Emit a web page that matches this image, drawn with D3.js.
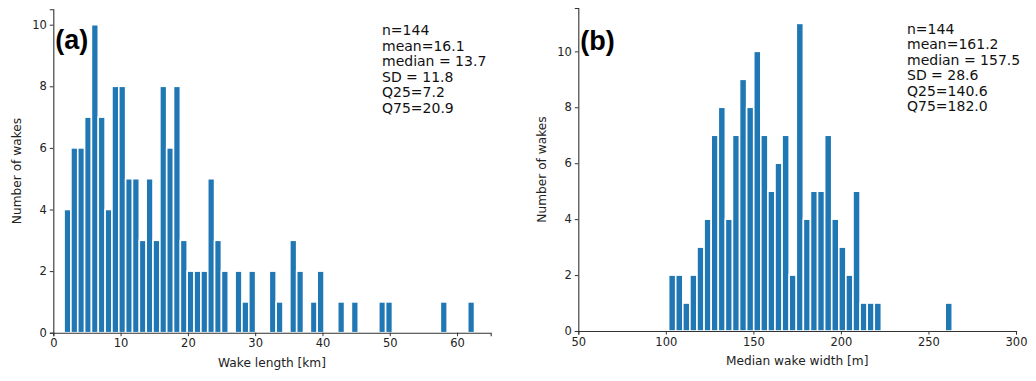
<!DOCTYPE html>
<html>
<head>
<meta charset="utf-8">
<script src="https://cdn.jsdelivr.net/npm/d3@7"></script>
<style>
  body { margin: 0; background: #fff; }
  text { font-family: "DejaVu Sans", sans-serif; }
</style>
</head>
<body>
<div id="canvas"></div>
<script>
"use strict"

/* Data: histogram counts */
// (a) wake length, 60 bins between lengthRange
const lengthCounts = [4, 6, 6, 7, 10, 7, 4, 8, 8, 5, 5, 3, 5, 3, 8, 6, 8, 3, 2, 2,
    2, 5, 3, 2, 0, 2, 1, 2, 0, 0, 2, 1, 0, 3, 2, 0, 1, 2, 0, 0,
    1, 0, 1, 0, 0, 0, 1, 1, 0, 0, 0, 0, 0, 0, 0, 1, 0, 0, 0, 1];
const lengthRange = [1.6, 62.6];
const lengthTicks = [0, 10, 20, 30, 40, 50, 60];
const lengthStats = ["n=144", "mean=16.1", "median = 13.7", "SD = 11.8", "Q25=7.2", "Q75=20.9"];

// (b) median wake width, 40 bins between widthRange
const widthCounts = [2, 2, 1, 2, 3, 4, 7, 8, 4, 7, 9, 8, 10, 7, 5, 6, 7, 2, 11, 4,
    5, 5, 7, 4, 3, 2, 5, 1, 1, 1, 0, 0, 0, 0, 0, 0, 0, 0, 0, 1];
const widthRange = [101.6, 263.6];
const widthTicks = [50, 100, 150, 200, 250, 300];
const widthStats = ["n=144", "mean=161.2", "median = 157.5", "SD = 28.6", "Q25=140.6", "Q75=182.0"];

const yTicksA = [0, 2, 4, 6, 8, 10];
const yTicksB = [0, 2, 4, 6, 8, 10];

/* Drawing config */
let svgWidth = 1036;
let svgHeight = 381;
let barColor = "#1f77b4";

let svg = d3.select("#canvas")
    .append("svg")
    .attr("width", svgWidth)
    .attr("height", svgHeight);

function drawPanel(opt) {
    let g = svg.append("g");

    let n = opt.counts.length;
    let step = (opt.range[1] - opt.range[0]) / n;
    let bins = opt.counts.map(function(c, i) {
        return { x0: opt.range[0] + i * step, x1: opt.range[0] + (i + 1) * step, count: c };
    });

    let xScale = d3.scaleLinear()
        .domain(opt.xDomain)
        .range([opt.left, opt.right]);

    let yScale = d3.scaleLinear()
        .domain(opt.yDomain)
        .range([opt.bottom, opt.top]);

    // bars (white edges like matplotlib)
    g.selectAll(".bar")
        .data(bins.filter(d => d.count > 0))
        .join("rect")
        .attr("class", "bar")
        .attr("x", d => xScale(d.x0))
        .attr("width", d => xScale(d.x1) - xScale(d.x0))
        .attr("y", d => yScale(d.count))
        .attr("height", d => yScale(0) - yScale(d.count))
        .attr("fill", barColor)
        .attr("stroke", "#fff")
        .attr("stroke-width", 1.6);

    // x axis
    let xAxis = d3.axisBottom(xScale)
        .tickValues(opt.xTicks)
        .tickSize(3.5)
        .tickPadding(3)
        .tickFormat(d3.format("d"));
    let gx = g.append("g")
        .attr("transform", "translate(0," + opt.bottom + ")")
        .call(xAxis);

    // y axis
    let yAxis = d3.axisLeft(yScale)
        .tickValues(opt.yTicks)
        .tickSize(3.5)
        .tickPadding(3)
        .tickFormat(d3.format("d"));
    let gy = g.append("g")
        .attr("transform", "translate(" + opt.left + ",0)")
        .call(yAxis);

    [gx, gy].forEach(function(a) {
        a.select(".domain").attr("stroke", "#333").attr("stroke-width", 1.1);
        a.selectAll(".tick line").attr("stroke", "#333");
        a.selectAll(".tick text")
            .style("font-family", "DejaVu Sans")
            .style("font-size", "11.5px")
            .attr("fill", "#222");
    });

    // axis labels
    g.append("text")
        .attr("x", (opt.left + opt.right) / 2)
        .attr("y", opt.bottom + 34)
        .attr("text-anchor", "middle")
        .style("font-size", "12.2px")
        .attr("fill", "#222")
        .text(opt.xLabel);

    g.append("text")
        .attr("transform", "translate(" + (opt.left - 32) + "," + ((opt.top + opt.bottom) / 2) + ") rotate(-90)")
        .attr("text-anchor", "middle")
        .style("font-size", "12.2px")
        .attr("fill", "#222")
        .text("Number of wakes");

    // panel letter
    g.append("text")
        .attr("x", opt.left + 2)
        .attr("y", opt.letterY)
        .style("font-family", "Liberation Sans, Arial, sans-serif")
        .style("font-weight", "bold")
        .style("font-size", "27px")
        .attr("fill", "#000")
        .text(opt.letter);

    // stats block
    g.selectAll(".stat")
        .data(opt.stats)
        .join("text")
        .attr("class", "stat")
        .attr("x", opt.statX)
        .attr("y", (d, i) => opt.statY + i * 15.5)
        .style("font-size", "14px")
        .attr("fill", "#111")
        .text(d => d);
}

drawPanel({
    counts: lengthCounts, range: lengthRange,
    xDomain: [0, 65], yDomain: [0, 10.5],
    left: 53.3, right: 490.7, top: 9.3, bottom: 332.7,
    xTicks: lengthTicks, yTicks: yTicksA,
    xLabel: "Wake length [km]",
    letter: "(a)", letterY: 49,
    stats: lengthStats, statX: 382, statY: 35
});

drawPanel({
    counts: widthCounts, range: widthRange,
    xDomain: [50, 300], yDomain: [0, 11.55],
    left: 578.3, right: 1016, top: 8, bottom: 331,
    xTicks: widthTicks, yTicks: yTicksB,
    xLabel: "Median wake width [m]",
    letter: "(b)", letterY: 50,
    stats: widthStats, statX: 907, statY: 33.5
});
</script>
</body>
</html>
